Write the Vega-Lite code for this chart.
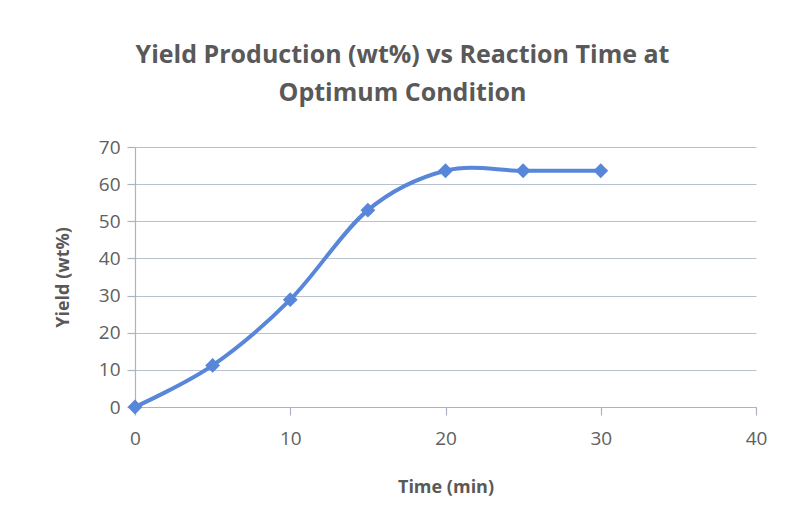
{
  "$schema": "https://vega.github.io/schema/vega-lite/v6.json",
  "autosize": "none",
  "width": 621,
  "height": 260,
  "padding": {"left": 135, "top": 147, "right": 33, "bottom": 121},
  "background": "white",
  "config": {
    "font": "Open Sans",
    "view": {"stroke": null},
    "axis": {
      "labelColor": "#606060",
      "titleColor": "#595959",
      "labelFont": "Open Sans",
      "titleFont": "Open Sans",
      "labelFontSize": 19,
      "titleFontSize": 18,
      "titleFontWeight": "bold",
      "domainColor": "#aab3c2",
      "tickColor": "#aab3c2",
      "gridColor": "#b9c1ce",
      "domainWidth": 1.2,
      "gridWidth": 1.2,
      "tickWidth": 1.2
    }
  },
  "title": {
    "text": ["Yield Production (wt%) vs Reaction Time at", "Optimum Condition"],
    "font": "Open Sans",
    "fontSize": 25,
    "fontWeight": "bold",
    "color": "#595959",
    "anchor": "middle",
    "dx": -43,
    "offset": 32,
    "lineHeight": 38
  },
  "data": {
    "values": [
      {"time": 0, "yield": 0},
      {"time": 5, "yield": 11.2},
      {"time": 10, "yield": 28.9},
      {"time": 15, "yield": 53},
      {"time": 20, "yield": 63.6},
      {"time": 25, "yield": 63.6},
      {"time": 30, "yield": 63.6}
    ]
  },
  "encoding": {
    "x": {
      "field": "time",
      "type": "quantitative",
      "scale": {"domain": [0, 40], "nice": false},
      "axis": {
        "title": "Time (min)",
        "values": [0, 10, 20, 30, 40],
        "grid": false,
        "tickSize": 8,
        "labelFlush": false,
        "labelPadding": 14,
        "titlePadding": 30
      }
    },
    "y": {
      "field": "yield",
      "type": "quantitative",
      "scale": {"domain": [0, 70], "nice": false},
      "axis": {
        "title": "Yield (wt%)",
        "values": [0, 10, 20, 30, 40, 50, 60, 70],
        "grid": true,
        "tickSize": 8,
        "labelPadding": 7,
        "titlePadding": 26
      }
    }
  },
  "layer": [
    {
      "mark": {"type": "line", "interpolate": "cardinal", "color": "#5886d8", "strokeWidth": 4}
    },
    {
      "mark": {"type": "point", "shape": "diamond", "filled": true, "size": 220, "color": "#5886d8", "opacity": 1}
    }
  ]
}
